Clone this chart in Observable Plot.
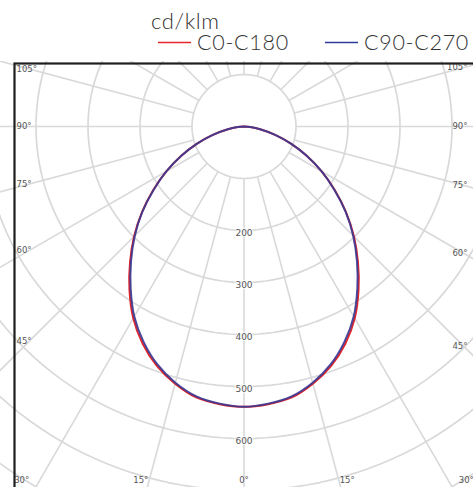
<!DOCTYPE html>
<html><head><meta charset="utf-8">
<script src="https://cdn.jsdelivr.net/npm/d3@7"></script>
<script src="https://cdn.jsdelivr.net/npm/@observablehq/plot@0.6"></script>
<style>
html,body{margin:0;padding:0;background:#fff;overflow:hidden;width:473px;height:487px}
#legend{display:block}
#chart svg{display:block}
</style></head><body>
<svg id="legend" width="473" height="61"></svg>
<div id="chart"></div>
<script>
// Luminous intensity (cd/klm) by gamma angle (degrees from nadir)
const angles   = [0, 5, 10, 15, 20, 25, 30, 35, 40, 45, 50, 55, 60, 65, 70, 75, 80, 85, 90];
const c0c180   = [539, 536, 529, 512, 490, 461, 426, 384, 341, 299, 256, 213, 172, 133, 96, 62, 33, 12, 0];
const c90c270  = [539, 535, 527, 510, 487, 457, 422, 380, 338, 297, 255, 212, 172, 133, 96, 62, 33, 12, 0];
const seriesNames  = ["C0-C180", "C90-C270"];
const seriesColors = ["#e0262c", "#3b3a92"];
const ringValues   = [100, 200, 300, 400, 500, 600, 700, 800];
const ringLabels   = [200, 300, 400, 500, 600];
const sideAngleLabels   = [105, 90, 75, 60, 45];
const bottomAngleLabels = [-30, -15, 0, 15, 30];
const unit = "cd/klm";

// ---- legend (above the plot) ----
const lg = d3.select("#legend");
const legendFont = "Lato, 'Noto Sans', sans-serif";
lg.append("text").attr("x", 151).attr("y", 29).text(unit)
  .attr("font-family", legendFont).attr("font-weight", 300)
  .attr("font-size", 22).attr("letter-spacing", 0.6).attr("fill", "#333");
const legendX = [158, 325];
seriesNames.forEach((n, i) => {
  lg.append("line").attr("x1", legendX[i]).attr("x2", legendX[i] + 33)
    .attr("y1", 42.5).attr("y2", 42.5).attr("stroke", i === 0 ? "#e8262c" : "#2c3c9c").attr("stroke-width", 1.3);
  lg.append("text").attr("x", legendX[i] + 39).attr("y", 50).text(n)
    .attr("font-family", legendFont).attr("font-weight", 300)
    .attr("font-size", 21.5).attr("letter-spacing", 0.7).attr("fill", "#333");
});

// ---- geometry helpers ----
const rad = d => d * Math.PI / 180;
const pxPerUnit = 0.52;
const cx = 243.5, cy = 65, W = 473, H = 426;

function curve(values) {
  const pts = [];
  for (let i = angles.length - 1; i >= 0; i--) pts.push({a: -angles[i], v: values[i]});
  for (let i = 1; i < angles.length; i++) pts.push({a: angles[i], v: values[i]});
  return pts.map(p => ({x: p.v * Math.sin(rad(p.a)), y: p.v * Math.cos(rad(p.a))}));
}
const rings = ringValues.flatMap(r => d3.range(0, 361, 2).map(a => ({r, x: r * Math.sin(rad(a)), y: r * Math.cos(rad(a))})));
const spokes = d3.range(0, 360, 15).map(a => ({a}));
const labelFont = "'DejaVu Sans', sans-serif";

const chart = Plot.plot({
  width: W, height: H,
  marginTop: 0, marginRight: 0, marginBottom: 0, marginLeft: 0,
  x: {domain: [-cx / pxPerUnit, (W - cx) / pxPerUnit], range: [0, W], axis: null},
  y: {domain: [-cy / pxPerUnit, (H - cy) / pxPerUnit], range: [0, H], axis: null},
  style: {background: "#fff"},
  marks: [
    Plot.line(rings, {x: "x", y: "y", z: "r", stroke: "#d9d9d9", strokeWidth: 1.7}),
    Plot.link(spokes, {
      x1: d => 100 * Math.sin(rad(d.a)), y1: d => 100 * Math.cos(rad(d.a)),
      x2: d => 1200 * Math.sin(rad(d.a)), y2: d => 1200 * Math.cos(rad(d.a)),
      stroke: "#d9d9d9", strokeWidth: 1.6
    }),
    Plot.text(ringLabels, {x: 0, y: d => d, dy: 2.5, text: d => String(d), fontSize: 9,
      fontFamily: labelFont, fill: "#555", stroke: "#fff", strokeWidth: 1.5}),
    Plot.line(curve(c0c180), {x: "x", y: "y", stroke: seriesColors[0], strokeWidth: 2, curve: "catmull-rom"}),
    Plot.line(curve(c90c270), {x: "x", y: "y", stroke: seriesColors[1], strokeWidth: 2, curve: "catmull-rom", strokeOpacity: 0.92}),
    // angle labels at the frame edges
    Plot.text(sideAngleLabels, {frameAnchor: "left", dx: 16, textAnchor: "start",
      y: d => (215 / pxPerUnit) / Math.tan(rad(d)), text: d => d + "°",
      fontSize: 8.5, fontFamily: labelFont, fill: "#555"}),
    Plot.text(sideAngleLabels, {frameAnchor: "right", dx: -6, textAnchor: "end",
      y: d => (220 / pxPerUnit) / Math.tan(rad(d)), text: d => d + "°",
      fontSize: 8.5, fontFamily: labelFont, fill: "#555"}),
    Plot.text(bottomAngleLabels, {frameAnchor: "bottom", dy: -5,
      x: d => (385 / pxPerUnit) * Math.tan(rad(d)), text: d => Math.abs(d) + "°",
      fontSize: 8.5, fontFamily: labelFont, fill: "#555"}),
    Plot.frame({insetLeft: 14, insetTop: 2, insetRight: -10, insetBottom: -10, stroke: "#1e1e1e", strokeWidth: 2.2})
  ]
});
document.getElementById("chart").append(chart);
</script>
</body></html>
